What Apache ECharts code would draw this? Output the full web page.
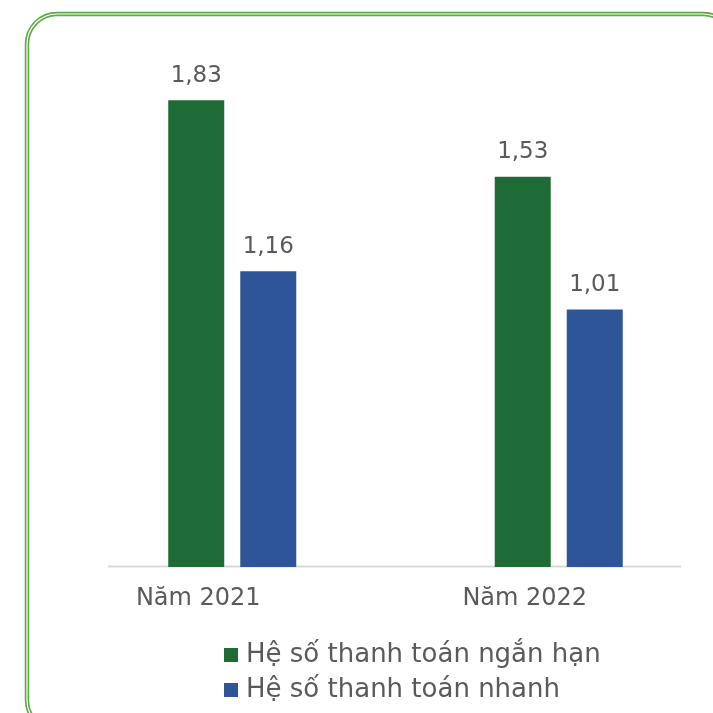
<!DOCTYPE html>
<html>
<head>
<meta charset="utf-8">
<script src="https://cdn.jsdelivr.net/npm/echarts@6/dist/echarts.min.js"></script>
<style>html,body{margin:0;padding:0;background:#fff}#c{width:713px;height:713px}</style>
</head>
<body>
<div id="c"></div>
<script>
const categories = ['Năm 2021', 'Năm 2022'];
const seriesNames = ['Hệ số thanh toán ngắn hạn', 'Hệ số thanh toán nhanh'];
const shortTerm = [1.83, 1.53];
const quick = [1.16, 1.01];

const FONT = '"DejaVu Sans", sans-serif';
const chart = echarts.init(document.getElementById('c'), null, {renderer: 'canvas'});
const lbl = {
  show: true, position: 'top', distance: 13, color: '#5a5a5a', fontSize: 23, fontFamily: FONT,
  formatter: p => p.value.toFixed(2).replace('.', ',')
};
chart.setOption({
  animation: false,
  backgroundColor: '#fff',
  graphic: [
    {type: 'rect', shape: {x: 27, y: 14, width: 706, height: 716, r: 30}, style: {fill: 'none', stroke: '#62a847', lineWidth: 4.5}, z: 0},
    {type: 'rect', shape: {x: 27, y: 14, width: 706, height: 716, r: 30}, style: {fill: 'none', stroke: '#ffffff', lineWidth: 1.2}, z: 1},
    {type: 'line', shape: {x1: 108, y1: 566.5, x2: 681, y2: 566.5}, style: {stroke: '#d9d9d9', lineWidth: 2}, z: 1}
  ],
  legend: {
    orient: 'vertical', left: 224, top: 641, itemWidth: 14, itemHeight: 14, itemGap: 7,
    icon: 'rect', data: seriesNames, padding: 0,
    textStyle: {color: '#5a5a5a', fontSize: 26, lineHeight: 28, fontFamily: FONT, padding: [0, 0, 0, 3]}
  },
  grid: {left: 69, width: 653, top: 57, height: 510, containLabel: false, outerBoundsMode: 'none'},
  xAxis: {
    type: 'category', data: categories,
    axisLine: {show: false}, axisTick: {show: false},
    axisLabel: {color: '#5a5a5a', fontSize: 24, fontFamily: FONT, margin: 20, padding: [0, 68, 0, 0]}
  },
  yAxis: {type: 'value', min: 0, max: 2, show: false, splitLine: {show: false}},
  series: [
    {name: seriesNames[0], type: 'bar', data: shortTerm, barWidth: 56, barGap: '28.6%', itemStyle: {color: '#1e6b35'}, label: lbl},
    {name: seriesNames[1], type: 'bar', data: quick, barWidth: 56, barGap: '28.6%', itemStyle: {color: '#2e5597'}, label: lbl}
  ]
});
</script>
</body>
</html>
